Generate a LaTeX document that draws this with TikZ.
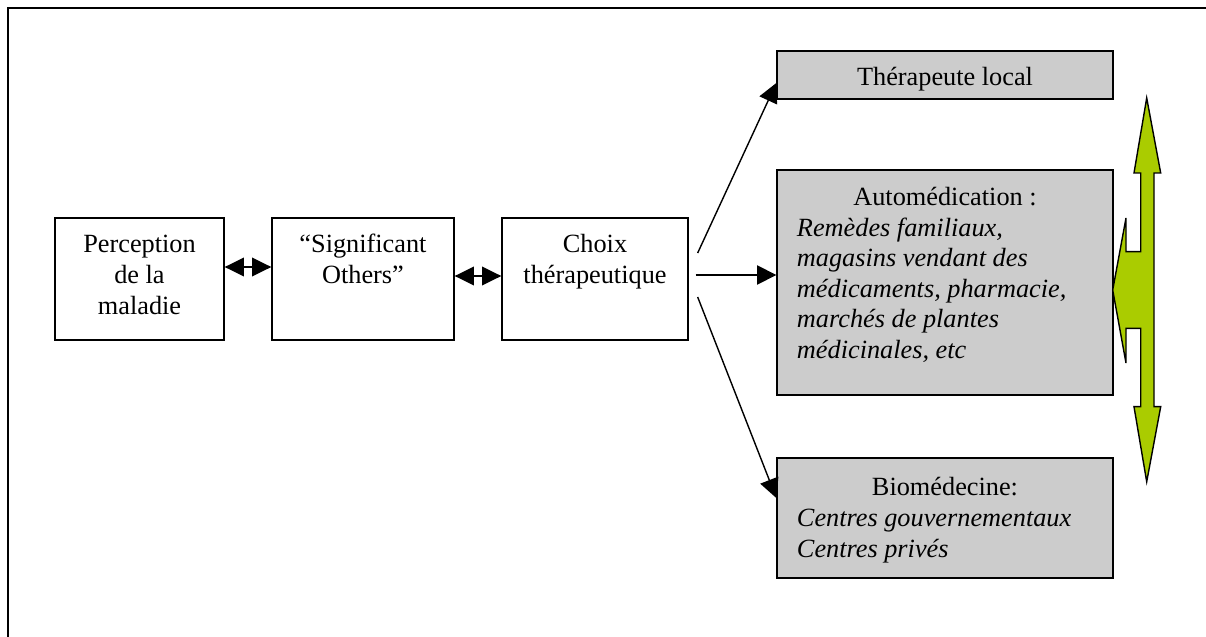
\documentclass[tikz,border=0pt]{standalone}
\usepackage{fontspec}
\setmainfont{Liberation Serif}
\usepackage{tikz}
\usetikzlibrary{arrows.meta, calc}
\definecolor{boxgray}{RGB}{204,204,204}
\definecolor{arrowgreen}{RGB}{170,204,0}
\tikzstyle{whitebox} = [rectangle, draw=black, line width=0.9pt, fill=white, inner sep=0pt]
\tikzstyle{graybox} = [rectangle, draw=black, line width=0.9pt, fill=boxgray, inner sep=0pt]
\tikzstyle{arrow} = [line width=1pt, -{Triangle[length=0.48cm, width=0.48cm]}]
\tikzstyle{dblarrow} = [line width=1.6pt, {Triangle[length=0.48cm, width=0.46cm]}-{Triangle[length=0.48cm, width=0.46cm]}]
\tikzstyle{greenarrow} = [draw=black, line width=1pt, fill=arrowgreen, line join=miter]
\newcommand{\toptext}[3]{\parbox[c][#2][t]{#1}{#3}}

\begin{document}
\begin{tikzpicture}[x=0.025cm, y=-0.025cm, font=\fontsize{18.7pt}{21.7pt}\selectfont]
            \useasboundingbox (0,0) rectangle (1206,637);
            \draw [line width=1.4pt] (8,637) -- (8,8) -- (1206,8);

            \node (perception) [whitebox] at (139.5,279) {\toptext{4.225cm}{3.05cm}{\centering\rule{0pt}{0.875cm}Perception\\de la\\maladie}};
            \node (others) [whitebox] at (363,279) {\toptext{4.55cm}{3.05cm}{\centering\rule{0pt}{0.875cm}“Significant\\Others”}};
            \node (choix) [whitebox] at (595,279) {\toptext{4.65cm}{3.05cm}{\centering\rule{0pt}{0.875cm}Choix\\thérapeutique}};

            \node (therapeute) [graybox] at (945,75) {\toptext{8.4cm}{1.2cm}{\centering\rule{0pt}{0.85cm}Thérapeute local}};
            \node (automed) [graybox] at (945,282.5) {\toptext{8.4cm}{5.625cm}{\centering\rule{0pt}{0.89cm}Automédication :\par
                \raggedright\leftskip=0.5cm\itshape Remèdes familiaux,\\magasins vendant des\\médicaments, pharmacie,\\marchés de plantes\\médicinales, etc}};
            \node (biomed) [graybox] at (945,518) {\toptext{8.4cm}{3cm}{\centering\rule{0pt}{0.95cm}Biomédecine:\par
                \raggedright\leftskip=0.5cm\itshape Centres gouvernementaux\\Centres privés}};

            \coordinate (up_start) at ($(choix.east)+(9,-26)$);
            \coordinate (mid_start) at ($(choix.east)+(7,-4)$);
            \coordinate (low_start) at ($(choix.east)+(9,18)$);

            \draw [dblarrow] ($(perception.east)+(0,-12)$) -- ($(others.west)+(0,-12)$);
            \draw [dblarrow] ($(others.east)+(0,-3)$) -- ($(choix.west)+(0,-3)$);
            \draw [arrow] (up_start) -- ($(therapeute.west)+(0,8)$);
            \draw [arrow] (mid_start) -- ($(automed.west)+(0,-7.5)$);
            \draw [arrow] (low_start) -- ($(biomed.west)+(0,-20)$);

            % green double arrow pointing back to the self-medication box
            \draw [greenarrow] (1146.7,98) -- (1160.7,173) -- (1154,173) -- (1154,406.7)
                -- (1160.7,406.7) -- (1146.7,481.7) -- (1134,406.7) -- (1140.7,406.7)
                -- (1140.7,328.3) -- (1126,328.3) -- (1126,363) -- (1112.7,290)
                -- (1126,218) -- (1126,251.7) -- (1140.7,251.7) -- (1140.7,173)
                -- (1134,173) -- cycle;
        \end{tikzpicture}
\end{document}
